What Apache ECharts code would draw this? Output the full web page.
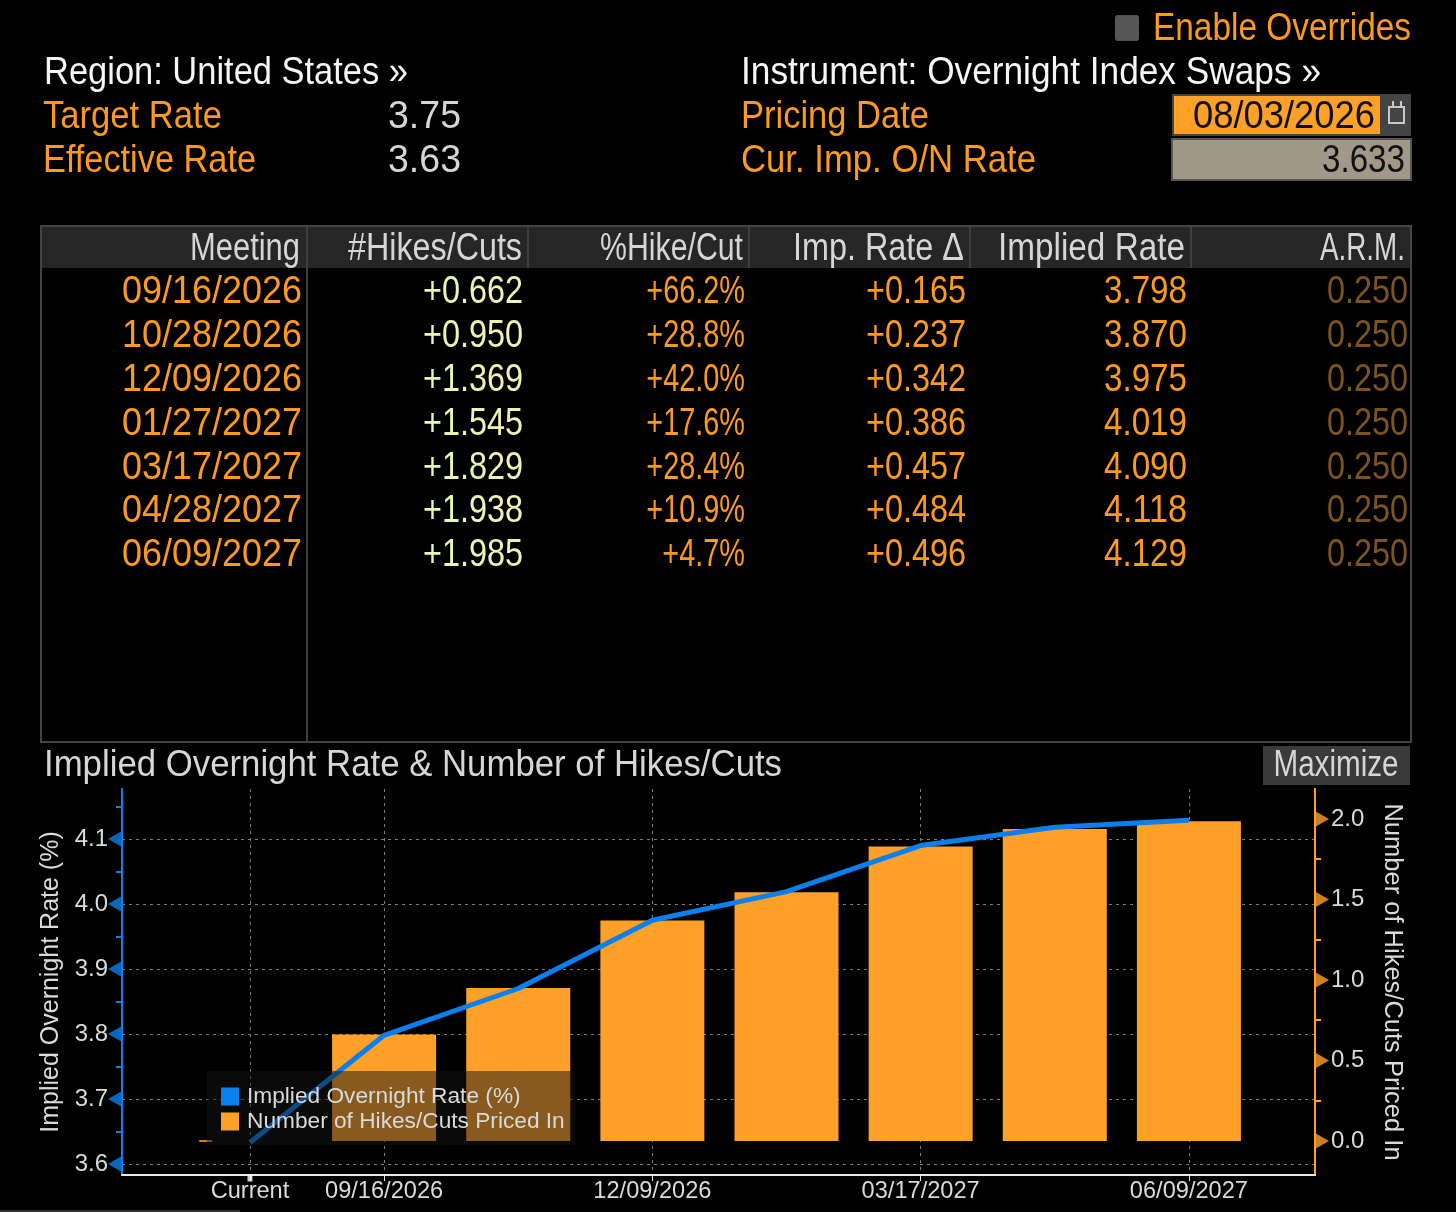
<!DOCTYPE html>
<html><head><meta charset="utf-8">
<style>html,body{margin:0;background:#000}#c{width:1456px;height:1212px}</style>
<script src="https://cdn.jsdelivr.net/npm/echarts@6/dist/echarts.min.js"></script>
</head><body><div id="c"></div><script>
const xLabels = ['Current','09/16/2026','','12/09/2026','','03/17/2027','','06/09/2027'];
const meetings = ['09/16/2026','10/28/2026','12/09/2026','01/27/2027','03/17/2027','04/28/2027','06/09/2027'];
const hikeCounts = [0.662,0.950,1.369,1.545,1.829,1.938,1.985];
const hikePct = ['+66.2%','+28.8%','+42.0%','+17.6%','+28.4%','+10.9%','+4.7%'];
const rateDelta = [0.165,0.237,0.342,0.386,0.457,0.484,0.496];
const impliedRate = [3.798,3.870,3.975,4.019,4.090,4.118,4.129];
const currentRate = 3.633;
const arm = ['0.250','0.250','0.250','0.250','0.250','0.250','0.250'];
const headers = ['Meeting','#Hikes/Cuts','%Hike/Cut','Imp. Rate Δ','Implied Rate','A.R.M.'];
const leftTicks = [3.6,3.7,3.8,3.9,4.0,4.1];
const leftMinor = [3.65,3.75,3.85,3.95,4.05,4.15];
const rightTicks = [0,0.5,1,1.5,2];
const rightMinor = [0.25,0.75,1.25,1.75];
const xTicks = [0,1,3,5,7];

const FONT = '"Liberation Sans"';
const ORANGE='#fb9a1e', WHITE='#f4f6f8', GREY='#d4d6d8', PALE='#eef3b4', BLUE='#0a80ee', BAR='#ffa028', DIM='#7d5420';
const XMIN=-0.954, XMAX=7.94, LMIN=3.583, LMAX=4.177, RMIN=-0.211, RMAX=2.186;

const els=[];
const mctx=document.createElement('canvas').getContext('2d');
const rect=(x,y,w,h,fill,stroke,r)=>els.push({type:'rect',silent:true,z:1,shape:{x,y,width:w,height:h,r:r||0},style:{fill:fill||'transparent',stroke:stroke||null,lineWidth:stroke?2:0}});
// width: horizontal room the text takes (narrow terminal face); number below 2 = direct scale
const txt=(s,x,y,fill,align,width,size)=>{
  const font=(size||39)+'px '+FONT; mctx.font=font;
  const sx=width<2?width:width/mctx.measureText(s).width;
  els.push({type:'text',silent:true,z:3,x,y:y+2,scaleX:sx,style:{text:s,fill,font,textAlign:align||'left',textVerticalAlign:'middle'}});
};

// header block
rect(1115,15,24,26,'#565656',null,3);
txt('Enable Overrides',1411,27,ORANGE,'right',258);
txt('Region: United States »',44,71,WHITE,'left',364);
txt('Target Rate',43,115,ORANGE,'left',179);
txt('3.75',461,115,GREY,'right',73);
txt('Effective Rate',43,159,ORANGE,'left',213);
txt('3.63',461,159,GREY,'right',73);
txt('Instrument: Overnight Index Swaps »',741,71,WHITE,'left',580);
txt('Pricing Date',741,115,ORANGE,'left',188);
txt('Cur. Imp. O/N Rate',741,159,ORANGE,'left',295);
rect(1172,94,239,42,'#444444');
rect(1174,96,206,38,BAR);
txt('08/03/2026',1375,115,'#111','right',182);
rect(1389,107,15,16,'transparent','#c8c8c8');
rect(1392,101,2,6,'#c8c8c8');rect(1400,101,2,6,'#c8c8c8');
rect(1172,139,239,41,'#a19888','#555555');
txt('3.633',1405,159,'#111','right',83);

// table frame
rect(41,226,1370,516,'transparent','#444444');
rect(42,227,1368,41,'#262626');
[306,527,748,969,1190].forEach((x,i)=>rect(x,227,2,i?41:515,'#3e3e3e'));
const colR=[302,523,745,966,1187,1408];
const headR=[300,522,743,964,1185,1405];
const headW=[110,174,143,171,187,85];
headers.forEach((h,i)=>txt(h,headR[i],247,GREY,'right',headW[i]));
const rowY=[290,334,378,422,466,509,553];
meetings.forEach((m,i)=>{
  const y=rowY[i];
  txt(m,colR[0],y,ORANGE,'right',180);
  txt('+'+hikeCounts[i].toFixed(3),colR[1],y,PALE,'right',100);
  txt(hikePct[i],colR[2],y,ORANGE,'right',0.74);
  txt('+'+rateDelta[i].toFixed(3),colR[3],y,ORANGE,'right',100);
  txt(impliedRate[i].toFixed(3),colR[4],y,ORANGE,'right',83);
  txt(arm[i],colR[5],y,DIM,'right',81);
});

// chart header
txt('Implied Overnight Rate & Number of Hikes/Cuts',44,764,GREY,'left',738,36);
rect(1263,746,147,39,'#3a3a3a');
txt('Maximize',1336,764,GREY,'center',125,36);
rect(0,1210,240,2,'#303030');

const yBase=(over)=>Object.assign({type:'value',axisLabel:{show:false},axisLine:{show:false},axisTick:{show:false},splitLine:{show:false}},over);
const axisFont={color:'#d8dadc',fontFamily:FONT,fontSize:24,padding:[5,0,0,0]};
const chart=echarts.init(document.getElementById('c'),null,{width:1456,height:1212});
chart.setOption({
  backgroundColor:'#000',
  animation:false,
  graphic:{elements:els},
  grid:{left:122,top:789,width:1193,height:386,containLabel:false},
  legend:{
    data:[{name:'Implied Overnight Rate (%)',icon:'rect'},{name:'Number of Hikes/Cuts Priced In',icon:'rect'}],
    orient:'vertical',left:207,top:1071,itemWidth:18,itemHeight:18,itemGap:2,
    padding:[14,11,12,14],backgroundColor:'rgba(20,20,20,0.5)',
    textStyle:{color:'#d8dadc',fontFamily:FONT,fontSize:22.7,padding:[0,0,0,3]},selectedMode:false,z:6
  },
  xAxis:{type:'value',min:XMIN,max:XMAX,
    axisLine:{onZero:false,lineStyle:{color:'#e8e8e8',width:2}},
    axisTick:{customValues:xTicks,length:6,lineStyle:{color:'#e8e8e8'}},
    axisLabel:{customValues:xTicks,formatter:v=>xLabels[Math.round(v)]||'',margin:4,color:'#d8dadc',fontFamily:FONT,fontSize:23.6},
    splitLine:{show:true,lineStyle:{color:'#7c7c7c',type:[3,4],width:1}}},
  yAxis:[
    {type:'value',min:LMIN,max:LMAX,position:'left',
     name:'Implied Overnight Rate (%)',nameLocation:'middle',nameRotate:90,nameGap:53,
     nameTextStyle:{color:'#d8dadc',fontFamily:FONT,fontSize:25},
     axisLine:{show:true,onZero:false,lineStyle:{color:BLUE,width:2}},
     axisTick:{show:false,customValues:leftTicks},
     axisLabel:Object.assign({customValues:leftTicks,formatter:v=>v.toFixed(1),margin:14},axisFont),
     splitLine:{show:true,lineStyle:{color:'#7c7c7c',type:[3,4],width:1}}},
    {type:'value',min:RMIN,max:RMAX,position:'right',
     name:'Number of Hikes/Cuts Priced In',nameLocation:'middle',nameRotate:-90,nameGap:64,
     nameTextStyle:{color:'#d8dadc',fontFamily:FONT,fontSize:25.5},
     axisLine:{show:true,onZero:false,lineStyle:{color:BAR,width:2}},
     axisTick:{show:false,customValues:rightTicks},
     axisLabel:Object.assign({customValues:rightTicks,formatter:v=>v.toFixed(1),margin:16},axisFont),
     splitLine:{show:false}},
    yBase({min:LMIN,max:LMAX,position:'left',axisTick:{show:true,customValues:leftMinor,length:6,lineStyle:{color:BLUE,width:2}},axisLine:{show:true,onZero:false,lineStyle:{color:BLUE,width:2}}}),
    yBase({min:RMIN,max:RMAX,position:'right',axisTick:{show:true,customValues:rightMinor,length:6,lineStyle:{color:BAR,width:2}},axisLine:{show:true,onZero:false,lineStyle:{color:BAR,width:2}}})
  ],
  series:[
    {name:'Number of Hikes/Cuts Priced In',type:'bar',yAxisIndex:1,barWidth:104,itemStyle:{color:BAR},
     data:hikeCounts.map((v,i)=>[i+1,v]),z:2},
    {name:'Implied Overnight Rate (%)',type:'line',yAxisIndex:0,symbol:'none',lineStyle:{color:BLUE,width:5},itemStyle:{color:BLUE},
     data:[currentRate].concat(impliedRate).map((v,i)=>[i,v]),z:3},
    {type:'scatter',yAxisIndex:1,silent:true,symbol:'rect',symbolSize:[13,2],itemStyle:{color:BAR},data:[[-0.33,0]],z:2},
    {type:'scatter',yAxisIndex:0,silent:true,clip:false,symbol:'triangle',symbolRotate:90,symbolSize:[16,14],symbolOffset:[-7,0],itemStyle:{color:BLUE},
     data:leftTicks.map(v=>[XMIN,v]),z:3},
    {type:'scatter',yAxisIndex:1,silent:true,clip:false,symbol:'triangle',symbolRotate:-90,symbolSize:[16,14],symbolOffset:[7,0],itemStyle:{color:BAR},
     data:rightTicks.map(v=>[XMAX,v]),z:3},
    {type:'scatter',yAxisIndex:0,silent:true,clip:false,symbol:'rect',symbolSize:[5,7],symbolOffset:[0,3],itemStyle:{color:'#fff'},data:[[0,LMIN]],z:3}
  ]
});
</script></body></html>
